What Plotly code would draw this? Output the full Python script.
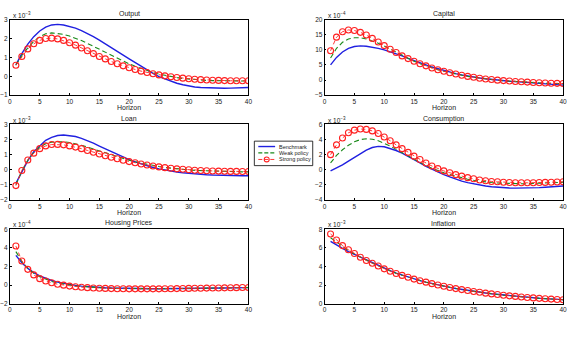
import plotly.graph_objects as go
from plotly.subplots import make_subplots

horizon = list(range(1, 41))

# Output (x 10^-3)
output_bench = [0.6, 1.2, 1.7, 2.1, 2.4, 2.6, 2.72, 2.75, 2.72, 2.65, 2.55, 2.42, 2.27, 2.1, 1.92, 1.73, 1.53, 1.33, 1.12, 0.92,
                0.72, 0.52, 0.33, 0.15, -0.02, -0.15, -0.27, -0.37, -0.45, -0.52, -0.57, -0.6, -0.62, -0.64, -0.64, -0.64, -0.63, -0.62, -0.61, -0.6]
output_weak = [0.6, 1.1, 1.5, 1.85, 2.1, 2.25, 2.3, 2.28, 2.22, 2.13, 2.02, 1.89, 1.74, 1.58, 1.42, 1.26, 1.1, 0.95, 0.8, 0.66,
               0.53, 0.41, 0.3, 0.2, 0.11, 0.04, -0.02, -0.07, -0.12, -0.15, -0.18, -0.2, -0.22, -0.23, -0.24, -0.25, -0.25, -0.25, -0.25, -0.25]
output_strong = [0.58, 1.05, 1.45, 1.72, 1.9, 2.0, 2.02, 1.98, 1.9, 1.78, 1.65, 1.5, 1.35, 1.2, 1.05, 0.92, 0.78, 0.66, 0.55, 0.45,
                 0.36, 0.27, 0.2, 0.13, 0.07, 0.02, -0.03, -0.07, -0.1, -0.13, -0.16, -0.18, -0.2, -0.21, -0.22, -0.23, -0.24, -0.24, -0.24, -0.24]

# Capital (x 10^-4)
capital_bench = [5.0, 7.5, 9.3, 10.5, 11.1, 11.3, 11.2, 10.9, 10.5, 10.0, 9.4, 8.7, 8.0, 7.2, 6.4, 5.7, 5.0, 4.3, 3.7, 3.1,
                 2.6, 2.1, 1.7, 1.3, 0.95, 0.65, 0.4, 0.15, -0.05, -0.25, -0.4, -0.55, -0.7, -0.85, -1.0, -1.15, -1.3, -1.45, -1.6, -1.7]
capital_weak = [7.3, 10.5, 12.5, 13.6, 14.0, 14.0, 13.6, 13.0, 12.2, 11.3, 10.3, 9.2, 8.1, 7.1, 6.2, 5.4, 4.7, 4.0, 3.4, 2.9,
                2.4, 2.0, 1.6, 1.2, 0.9, 0.6, 0.35, 0.12, -0.08, -0.25, -0.4, -0.55, -0.66, -0.77, -0.87, -0.97, -1.06, -1.12, -1.18, -1.23]
capital_strong = [9.7, 14.2, 16.0, 16.6, 16.4, 15.8, 14.9, 13.8, 12.6, 11.4, 10.2, 9.1, 8.0, 7.1, 6.2, 5.4, 4.7, 4.0, 3.4, 2.9,
                  2.4, 2.0, 1.6, 1.2, 0.9, 0.6, 0.35, 0.15, -0.05, -0.2, -0.35, -0.5, -0.6, -0.7, -0.8, -0.9, -1.0, -1.05, -1.1, -1.15]

# Loan (x 10^-3)
loan_bench = [-0.9, -0.1, 0.6, 1.2, 1.6, 1.95, 2.15, 2.27, 2.3, 2.27, 2.2, 2.08, 1.93, 1.76, 1.57, 1.38, 1.19, 1.0, 0.83, 0.67,
              0.52, 0.38, 0.26, 0.15, 0.06, -0.02, -0.09, -0.15, -0.2, -0.24, -0.28, -0.31, -0.33, -0.35, -0.37, -0.38, -0.39, -0.4, -0.4, -0.4]
loan_weak = [-1.0, -0.08, 0.63, 1.15, 1.5, 1.72, 1.83, 1.87, 1.86, 1.81, 1.73, 1.62, 1.5, 1.37, 1.24, 1.11, 0.98, 0.86, 0.74, 0.63,
             0.53, 0.44, 0.36, 0.28, 0.21, 0.15, 0.1, 0.06, 0.02, -0.01, -0.04, -0.06, -0.08, -0.1, -0.11, -0.12, -0.13, -0.13, -0.14, -0.14]
loan_strong = [-1.05, -0.05, 0.65, 1.1, 1.4, 1.58, 1.67, 1.68, 1.65, 1.58, 1.5, 1.4, 1.28, 1.16, 1.04, 0.93, 0.83, 0.73, 0.63, 0.54,
               0.46, 0.38, 0.31, 0.25, 0.19, 0.14, 0.1, 0.06, 0.03, 0.0, -0.03, -0.05, -0.07, -0.08, -0.09, -0.1, -0.11, -0.11, -0.12, -0.12]

# Consumption (x 10^-3)
cons_bench = [-0.15, 0.2, 0.65, 1.15, 1.65, 2.15, 2.6, 2.95, 3.1, 3.05, 2.85, 2.55, 2.2, 1.8, 1.35, 0.9, 0.45, 0.05, -0.3, -0.65,
              -0.95, -1.25, -1.5, -1.7, -1.88, -2.03, -2.15, -2.25, -2.33, -2.38, -2.42, -2.44, -2.44, -2.43, -2.41, -2.37, -2.32, -2.27, -2.22, -2.15]
cons_weak = [0.9, 1.9, 2.65, 3.25, 3.7, 4.0, 4.1, 4.05, 3.85, 3.55, 3.15, 2.7, 2.25, 1.8, 1.35, 0.95, 0.55, 0.2, -0.12, -0.4,
             -0.65, -0.88, -1.08, -1.25, -1.4, -1.52, -1.62, -1.7, -1.76, -1.8, -1.83, -1.85, -1.85, -1.85, -1.83, -1.8, -1.77, -1.73, -1.7, -1.66]
cons_strong = [2.0, 3.3, 4.2, 4.9, 5.25, 5.4, 5.35, 5.15, 4.8, 4.35, 3.85, 3.3, 2.8, 2.3, 1.8, 1.35, 0.9, 0.5, 0.15, -0.15,
               -0.4, -0.65, -0.85, -1.05, -1.2, -1.35, -1.45, -1.55, -1.6, -1.65, -1.7, -1.72, -1.73, -1.73, -1.72, -1.7, -1.68, -1.65, -1.62, -1.6]

# Housing prices (x 10^-4)
house_bench = [3.2, 2.4, 1.8, 1.35, 1.0, 0.72, 0.5, 0.32, 0.18, 0.06, -0.03, -0.1, -0.16, -0.21, -0.25, -0.28, -0.31, -0.33, -0.35, -0.36,
               -0.37, -0.38, -0.38, -0.38, -0.38, -0.38, -0.37, -0.37, -0.36, -0.35, -0.34, -0.33, -0.32, -0.31, -0.3, -0.3, -0.29, -0.28, -0.28, -0.27]
house_weak = [3.6, 2.55, 1.8, 1.28, 0.9, 0.62, 0.4, 0.23, 0.1, 0.0, -0.08, -0.14, -0.2, -0.24, -0.28, -0.31, -0.33, -0.35, -0.36, -0.37,
              -0.38, -0.39, -0.39, -0.39, -0.39, -0.38, -0.38, -0.37, -0.36, -0.35, -0.34, -0.33, -0.32, -0.31, -0.3, -0.29, -0.28, -0.27, -0.27, -0.26]
house_strong = [4.2, 2.6, 1.7, 1.1, 0.7, 0.45, 0.25, 0.1, 0.0, -0.1, -0.17, -0.22, -0.27, -0.3, -0.33, -0.35, -0.37, -0.38, -0.39, -0.4,
                -0.4, -0.4, -0.4, -0.4, -0.4, -0.39, -0.38, -0.37, -0.36, -0.35, -0.34, -0.33, -0.32, -0.31, -0.3, -0.29, -0.28, -0.27, -0.26, -0.25]

# Inflation (x 10^-3)
infl_bench = [6.7, 6.3, 5.95, 5.6, 5.3, 5.0, 4.7, 4.4, 4.1, 3.82, 3.55, 3.3, 3.08, 2.87, 2.67, 2.49, 2.33, 2.17, 2.03, 1.89,
              1.76, 1.64, 1.53, 1.43, 1.33, 1.24, 1.15, 1.07, 1.0, 0.93, 0.86, 0.8, 0.74, 0.69, 0.64, 0.59, 0.55, 0.51, 0.47, 0.44]
infl_weak = [7.1, 6.6, 6.1, 5.7, 5.35, 5.0, 4.67, 4.37, 4.07, 3.78, 3.52, 3.27, 3.06, 2.86, 2.66, 2.48, 2.32, 2.16, 2.02, 1.88,
             1.75, 1.63, 1.52, 1.42, 1.32, 1.23, 1.14, 1.06, 0.99, 0.92, 0.85, 0.79, 0.73, 0.68, 0.63, 0.58, 0.54, 0.5, 0.46, 0.43]
infl_strong = [7.5, 6.85, 6.25, 5.8, 5.4, 5.0, 4.65, 4.35, 4.05, 3.75, 3.5, 3.25, 3.05, 2.85, 2.65, 2.48, 2.32, 2.16, 2.02, 1.88,
               1.75, 1.63, 1.52, 1.42, 1.32, 1.23, 1.14, 1.06, 0.99, 0.92, 0.85, 0.79, 0.73, 0.68, 0.63, 0.58, 0.54, 0.5, 0.46, 0.43]

series_names = ["Benchmark", "Weak policy", "Strong policy"]

panels = [
    ("Output", "-3", [output_bench, output_weak, output_strong], [-1, 3], [-1, 0, 1, 2, 3]),
    ("Capital", "-4", [capital_bench, capital_weak, capital_strong], [-5, 20], [-5, 0, 5, 10, 15, 20]),
    ("Loan", "-3", [loan_bench, loan_weak, loan_strong], [-2, 3], [-2, -1, 0, 1, 2, 3]),
    ("Consumption", "-3", [cons_bench, cons_weak, cons_strong], [-4, 6], [-4, -2, 0, 2, 4, 6]),
    ("Housing Prices", "-4", [house_bench, house_weak, house_strong], [-2, 6], [-2, 0, 2, 4, 6]),
    ("Inflation", "-3", [infl_bench, infl_weak, infl_strong], [0, 8], [0, 2, 4, 6, 8]),
]

W, H = 575, 343
xdom = [(8 / W, 249 / W), (326 / W, 567 / W)]
ydom_px = [(16, 93), (123, 200), (230, 306)]
ydom = [(1 - b / H, 1 - t / H) for (t, b) in ydom_px]

def px(x):
    return x / W

def py(y):
    return 1 - y / H

fig = make_subplots(rows=3, cols=2)

colors = ["#2020e0", "#1a8a1a", "#ff2020"]
styles = [
    dict(mode="lines", line=dict(color=colors[0], width=1.4)),
    dict(mode="lines", line=dict(color=colors[1], width=1.1, dash="5px,3px")),
    dict(mode="lines+markers", line=dict(color=colors[2], width=0.9, dash="4px,3px"),
         marker=dict(symbol="circle-open", size=6, color=colors[2], line=dict(width=1.1))),
]

font = "Liberation Sans, Arial, sans-serif"
annotations = []
for i, (title, exp, data, yr, yt) in enumerate(panels):
    r, c = i // 2 + 1, i % 2 + 1
    for k in range(3):
        fig.add_trace(go.Scatter(x=horizon, y=data[k], name=series_names[k], showlegend=False,
                                 **styles[k]), row=r, col=c)
    xd = xdom[c - 1]
    yd = ydom[r - 1]
    fig.update_xaxes(domain=list(xd), range=[0, 40], tickvals=list(range(0, 41, 5)), row=r, col=c)
    fig.update_yaxes(domain=list(yd), range=yr, tickvals=yt, row=r, col=c)
    top_px, bot_px = ydom_px[r - 1]
    cx = (xd[0] + xd[1]) / 2
    annotations.append(dict(text=title, x=cx, y=py(top_px - 6), xref="paper", yref="paper",
                            showarrow=False, xanchor="center", yanchor="middle", font=dict(size=7, color="#222")))
    annotations.append(dict(text="Horizon", x=cx, y=py(bot_px + 13), xref="paper", yref="paper",
                            showarrow=False, xanchor="center", yanchor="middle", font=dict(size=7, color="#222")))
    annotations.append(dict(text="x 10<sup>" + exp.replace("-", "\u2212") + "</sup>", x=xd[0] + 1 / W, y=py(top_px - 5),
                            xref="paper", yref="paper", showarrow=False, xanchor="left", yanchor="middle",
                            font=dict(size=6.5, color="#222")))

# Custom compact legend (MATLAB style)
shapes = [dict(type="rect", xref="paper", yref="paper", x0=px(255), x1=px(314), y0=py(165), y1=py(140),
               line=dict(color="black", width=0.8), fillcolor="white", layer="above")]
rows_y = [145.5, 152, 158.7]
dashes = ["solid", "4px,2px", "4px,2px"]
widths = [1.4, 1.1, 0.9]
for k in range(3):
    shapes.append(dict(type="line", xref="paper", yref="paper", x0=px(259), x1=px(276), y0=py(rows_y[k]), y1=py(rows_y[k]),
                       line=dict(color=colors[k], width=widths[k], dash=dashes[k]), layer="above"))
    annotations.append(dict(text=series_names[k], x=px(277.5), y=py(rows_y[k]), xref="paper", yref="paper",
                            showarrow=False, xanchor="left", yanchor="middle", font=dict(size=5.5, color="#222")))
shapes.append(dict(type="circle", xref="paper", yref="paper", x0=px(265), x1=px(270), y0=py(rows_y[2] + 2.5),
                   y1=py(rows_y[2] - 2.5), line=dict(color=colors[2], width=1.1), layer="above"))

fig.update_xaxes(showline=True, mirror=True, linecolor="black", linewidth=0.8, ticks="inside", ticklen=2,
                 tickcolor="black", showgrid=False, zeroline=False, tickfont=dict(size=6.5, color="#222"))
fig.update_yaxes(showline=True, mirror=True, linecolor="black", linewidth=0.8, ticks="inside", ticklen=2,
                 tickcolor="black", showgrid=False, zeroline=False, tickfont=dict(size=6.5, color="#222"))

fig.update_layout(
    width=W, height=H, margin=dict(l=0, r=0, t=0, b=0),
    paper_bgcolor="white", plot_bgcolor="white",
    font=dict(family=font, size=7, color="#222"),
    annotations=annotations, shapes=shapes, showlegend=False,
)

fig.write_html("out.html")
